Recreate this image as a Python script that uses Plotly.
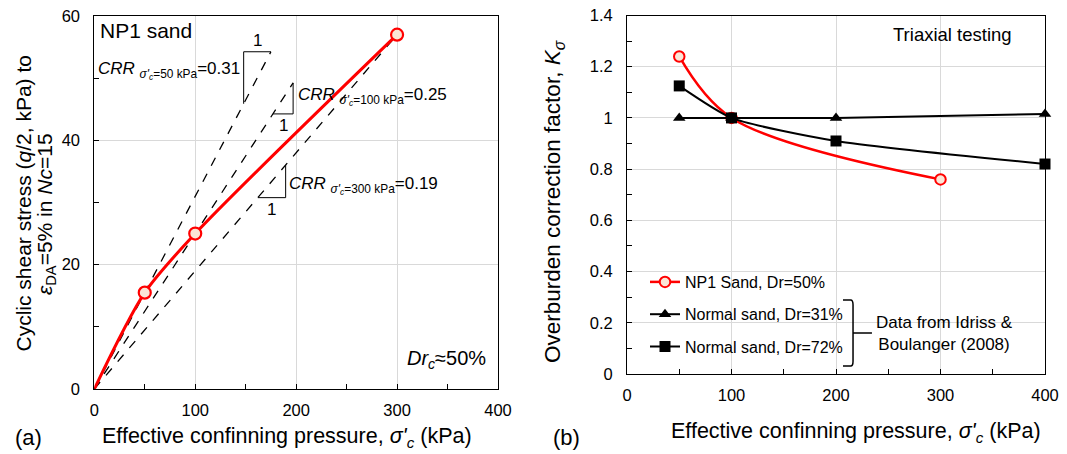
import plotly.graph_objects as go

# ---------------- data ----------------
# (a) cyclic shear stress vs confining pressure
pa_x = [0, 50, 100, 300]
pa_y = [0, 15.5, 25, 57]
crr_vals = [0.31, 0.25, 0.19]
crr_line_end = [175, 197, 300]
crr_tri_x0 = [148, 177, 162]
crr_tri_x1 = [175, 197, 189.6]
crr_press = ["50", "100", "300"]

# (b) K_sigma
np1_x = [50, 100, 300]
np1_y = [1.24, 1.0, 0.76]
dr31_x = [50, 100, 200, 400]
dr31_y = [1.0, 1.0, 1.0, 1.015]
dr72_x = [50, 100, 200, 400]
dr72_y = [1.125, 1.0, 0.91, 0.82]

FONT = "Arial, Liberation Sans, sans-serif"
RED = "#ff0000"
FILL = "#fbe5d6"
GRID = "#d9d9d9"
W, H = 1067, 454

fig = go.Figure()

# dashed CRR lines
for c, xe in zip(crr_vals, crr_line_end):
    fig.add_trace(go.Scatter(x=[0, xe], y=[0, c * xe], mode="lines",
                             line=dict(color="black", width=1.3, dash="dash"),
                             showlegend=False, xaxis="x", yaxis="y", hoverinfo="skip"))

# red curve (a)
fig.add_trace(go.Scatter(x=pa_x, y=pa_y, mode="lines", line=dict(color=RED, width=3, shape="spline", smoothing=0.8),
                         showlegend=False, xaxis="x", yaxis="y", cliponaxis=False))
fig.add_trace(go.Scatter(x=pa_x[1:], y=pa_y[1:], mode="markers",
                         marker=dict(symbol="circle", size=12, color=FILL, line=dict(color=RED, width=2.2)),
                         showlegend=False, xaxis="x", yaxis="y", cliponaxis=False))

# (b) traces
fig.add_trace(go.Scatter(x=np1_x, y=np1_y, mode="lines+markers", name="NP1 Sand, Dr=50%",
                         line=dict(color=RED, width=2.5, shape="spline", smoothing=1.0),
                         marker=dict(symbol="circle", size=10.5, color=FILL, line=dict(color=RED, width=2)),
                         xaxis="x2", yaxis="y2", cliponaxis=False, legendgroup="a"))
fig.add_trace(go.Scatter(x=dr31_x, y=dr31_y, mode="lines+markers", name="Normal sand, Dr=31%",
                         line=dict(color="black", width=2, shape="spline", smoothing=0.6),
                         marker=dict(symbol="triangle-up", size=11, color="black"),
                         xaxis="x2", yaxis="y2", cliponaxis=False, legendgroup="b"))
fig.add_trace(go.Scatter(x=dr72_x, y=dr72_y, mode="lines+markers", name="Normal sand, Dr=72%",
                         line=dict(color="black", width=2, shape="spline", smoothing=0.6),
                         marker=dict(symbol="square", size=11, color="black"),
                         xaxis="x2", yaxis="y2", cliponaxis=False, legendgroup="c"))

shapes = []
annotations = []

# slope triangles
for i, (c, x0, x1) in enumerate(zip(crr_vals, crr_tri_x0, crr_tri_x1)):
    if i == 0:
        ytop = c * x1
        shapes.append(dict(type="path", xref="x", yref="y",
                           path=f"M {x1},{ytop} L {x0},{ytop} L {x0},{c * x0}",
                           line=dict(color="black", width=1)))
        annotations.append(dict(x=(x0 + x1) / 2, y=ytop, xref="x", yref="y", text="1",
                                showarrow=False, xanchor="center", yanchor="bottom", font=dict(size=17)))
    else:
        ybot = c * x0
        shapes.append(dict(type="path", xref="x", yref="y",
                           path=f"M {x0},{ybot} L {x1},{ybot} L {x1},{c * x1}",
                           line=dict(color="black", width=1)))
        annotations.append(dict(x=(x0 + x1) / 2, y=ybot, xref="x", yref="y", text="1",
                                showarrow=False, xanchor="center", yanchor="top", font=dict(size=17)))

def crr_text(p, c):
    return f"<i>CRR</i> <sub><i>σ'</i><sub><i>c</i></sub>={p} kPa</sub>={c:.2f}"

annotations.append(dict(x=146, y=51.3, xref="x", yref="y", text=crr_text(crr_press[0], crr_vals[0]),
                        showarrow=False, xanchor="right", yanchor="middle", font=dict(size=17)))
annotations.append(dict(x=200, y=47.0, xref="x", yref="y", text=crr_text(crr_press[1], crr_vals[1]),
                        showarrow=False, xanchor="left", yanchor="middle", font=dict(size=17)))
annotations.append(dict(x=191, y=32.8, xref="x", yref="y", text=crr_text(crr_press[2], crr_vals[2]),
                        showarrow=False, xanchor="left", yanchor="middle", font=dict(size=17)))

annotations.append(dict(x=4, y=57.6, xref="x", yref="y", text="NP1 sand", showarrow=False,
                        xanchor="left", yanchor="middle", font=dict(size=21)))
annotations.append(dict(x=390, y=4.8, xref="x", yref="y", text="<i>Dr<sub>c</sub></i>≈50%", showarrow=False,
                        xanchor="right", yanchor="middle", font=dict(size=20)))

annotations.append(dict(x=370, y=1.324, xref="x2", yref="y2", text="Triaxial testing", showarrow=False,
                        xanchor="right", yanchor="middle", font=dict(size=18.5)))

# bracket
shapes.append(dict(type="path", xref="x2", yref="y2",
                   path="M 206.7,0.289 L 214,0.289 Q 216.3,0.289 216.3,0.27 L 216.3,0.05 Q 216.3,0.031 214,0.031 L 206.7,0.031 "
                        "M 216.3,0.160 L 234.4,0.160",
                   line=dict(color="black", width=1.5)))
annotations.append(dict(x=304, y=0.16, xref="x2", yref="y2", text="Data from Idriss &<br>Boulanger (2008)",
                        showarrow=False, xanchor="center", yanchor="middle", font=dict(size=17)))

# axis titles and panel labels (paper coords)
def px(xp):
    return xp / W

def py(yp):
    return 1 - yp / H

def ptext(x, y, text, size=20, angle=0):
    return dict(x=px(x), y=py(y), xref="paper", yref="paper", showarrow=False, text=text,
                xanchor="center", yanchor="middle", textangle=angle, font=dict(size=size))

annotations += [
    ptext(287, 437, "Effective confinning pressure, <i>σ'<sub>c</sub></i> (kPa)", size=21.5),
    ptext(856, 432, "Effective confinning pressure, <i>σ'<sub>c</sub></i> (kPa)", size=21.5),
    ptext(28, 437, "(a)", size=22),
    ptext(566, 437, "(b)", size=22),
    ptext(23.5, 204, "Cyclic shear stress (<i>q</i>/2, kPa) to", size=21, angle=-90),
    ptext(46, 214, "<i>ε</i><sub>DA</sub>=5% in <i>Nc</i>=15", size=21, angle=-90),
    ptext(554, 202, "Overburden correction factor, <i>K<sub>σ</sub></i>", size=22.5, angle=-90),
]

axis_common = dict(showline=True, linecolor="black", linewidth=1, mirror=True,
                   showgrid=True, gridcolor=GRID, gridwidth=1, zeroline=False,
                   ticks="inside", ticklen=5, tickcolor="black", tickwidth=1,
                   tickfont=dict(size=16.5, color="black"), automargin=False)

fig.update_layout(
    width=W, height=H,
    margin=dict(l=0, r=0, t=0, b=0, pad=0),
    paper_bgcolor="white", plot_bgcolor="white",
    font=dict(family=FONT, color="black", size=16),
    xaxis=dict(domain=[px(94.3), px(498)], range=[0, 400], dtick=100, anchor="y",
               minor=dict(dtick=50, ticks="inside", ticklen=5, tickcolor="black", showgrid=False),
               ticklabelstandoff=6, **axis_common),
    yaxis=dict(domain=[py(389), py(16)], range=[0, 60], dtick=20, anchor="x",
               minor=dict(dtick=10, ticks="inside", ticklen=5, tickcolor="black", showgrid=False),
               ticklabelstandoff=10, **axis_common),
    xaxis2=dict(domain=[px(627), px(1045)], range=[0, 400], dtick=100, anchor="y2",
                minor=dict(dtick=50, ticks="inside", ticklen=5, tickcolor="black", showgrid=False),
                ticklabelstandoff=6, **axis_common),
    yaxis2=dict(domain=[py(374), py(15.5)], range=[0, 1.4], dtick=0.2, anchor="x2",
                minor=dict(dtick=0.1, ticks="inside", ticklen=5, tickcolor="black", showgrid=False),
                ticklabelstandoff=10, **axis_common),
    legend=dict(x=px(645), y=py(265), xanchor="left", yanchor="top",
                bgcolor="rgba(0,0,0,0)", font=dict(size=16),
                traceorder="grouped", tracegroupgap=8.5, itemwidth=30),
    shapes=shapes,
    annotations=annotations,
)

fig.write_html("out.html", config={"displayModeBar": False},
               post_script="document.body.style.margin='0';")
